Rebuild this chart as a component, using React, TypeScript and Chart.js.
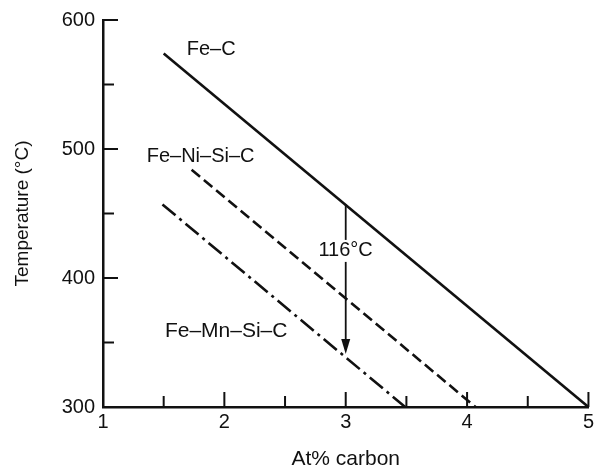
import React, { useEffect, useRef } from 'react';
import { Chart, registerables } from 'chart.js';

Chart.register(...registerables);

// Line end points (At% carbon, temperature °C)
const feCX = [1.5, 5];
const feCY = [574, 300];
const feNiSiCX = [1.73, 4.07];
const feNiSiCY = [484, 300];
const feMnSiCX = [1.49, 3.49];
const feMnSiCY = [457, 300];

// Arrow showing the 116°C depression
const arrowX = 3;
const arrowFromY = 457;
const arrowToY = 341;

// Text annotations
const noteTexts = ['Fe–C', 'Fe–Ni–Si–C', 'Fe–Mn–Si–C', '116°C'];
const noteX = [1.69, 1.36, 1.51, 2.775];
const noteY = [577, 494, 359, 421];

const xMin = 1;
const xMax = 5;
const yMin = 300;
const yMax = 600;

const FONT = '"Liberation Sans", Arial, Helvetica, sans-serif';
const INK = '#111';

const toPts = (xs: number[], ys: number[]) => xs.map((x, i) => ({ x, y: ys[i] }));

const overlayPlugin = {
  id: 'overlay',
  afterDatasetsDraw(chart: any) {
    const { ctx, scales } = chart;
    const xs = scales.x;
    const ys = scales.y;
    ctx.save();
    ctx.strokeStyle = INK;
    ctx.fillStyle = INK;
    // inward tick marks
    ctx.lineWidth = 2;
    const bottom = ys.getPixelForValue(yMin);
    const left = xs.getPixelForValue(xMin);
    xs.ticks.forEach((t: any) => {
      if (t.value === xMin) return;
      const px = xs.getPixelForValue(t.value);
      const len = Number.isInteger(t.value) ? 15 : 11;
      ctx.beginPath();
      ctx.moveTo(px, bottom);
      ctx.lineTo(px, bottom - len);
      ctx.stroke();
    });
    ys.ticks.forEach((t: any) => {
      if (t.value === yMin) return;
      const py = ys.getPixelForValue(t.value);
      const len = t.value % 100 === 0 ? 15 : 11;
      ctx.beginPath();
      ctx.moveTo(left, py);
      ctx.lineTo(left + len, py);
      ctx.stroke();
    });
    // arrow
    const ax = xs.getPixelForValue(arrowX);
    const ay1 = ys.getPixelForValue(arrowFromY);
    const ay2 = ys.getPixelForValue(arrowToY);
    ctx.lineWidth = 1.8;
    ctx.beginPath();
    ctx.moveTo(ax, ay1);
    ctx.lineTo(ax, ay2 - 12);
    ctx.stroke();
    ctx.beginPath();
    ctx.moveTo(ax, ay2);
    ctx.lineTo(ax - 4.5, ay2 - 15);
    ctx.lineTo(ax + 4.5, ay2 - 15);
    ctx.closePath();
    ctx.fill();
    // texts
    ctx.textAlign = 'left';
    ctx.textBaseline = 'middle';
    noteTexts.forEach((txt, i) => {
      ctx.font = `${i === 2 ? 21 : 20}px ${FONT}`;
      const px = xs.getPixelForValue(noteX[i]);
      const py = ys.getPixelForValue(noteY[i]);
      if (txt === '116°C') {
        const w = ctx.measureText(txt).width;
        ctx.fillStyle = '#fff';
        ctx.fillRect(px - 1, py - 11, w + 2, 22);
        ctx.fillStyle = INK;
      }
      ctx.fillText(txt, px, py);
    });
    ctx.restore();
  },
};

export default function App() {
  const ref = useRef<HTMLCanvasElement>(null);

  useEffect(() => {
    const canvas = ref.current;
    if (!canvas) return;
    const chart = new Chart(canvas, {
      type: 'scatter',
      data: {
        datasets: [
          {
            label: 'Fe–C',
            data: toPts(feCX, feCY),
            showLine: true,
            borderColor: INK,
            borderWidth: 2.6,
            pointRadius: 0,
          },
          {
            label: 'Fe–Ni–Si–C',
            data: toPts(feNiSiCX, feNiSiCY),
            showLine: true,
            borderColor: INK,
            borderWidth: 2.6,
            borderDash: [11, 5],
            pointRadius: 0,
          },
          {
            label: 'Fe–Mn–Si–C',
            data: toPts(feMnSiCX, feMnSiCY),
            showLine: true,
            borderColor: INK,
            borderWidth: 2.6,
            borderDash: [17, 5, 3, 5],
            pointRadius: 0,
          },
        ],
      },
      options: {
        animation: false,
        responsive: false,
        devicePixelRatio: 1,
        layout: { padding: { top: 18, right: 5, left: 0, bottom: 0 } },
        plugins: {
          legend: { display: false },
          tooltip: { enabled: false },
        },
        scales: {
          x: {
            type: 'linear',
            min: xMin,
            max: xMax,
            afterFit: (s: any) => {
              s.height = 65;
            },
            grid: { display: false, drawTicks: false },
            border: { display: true, color: INK, width: 2.5 },
            ticks: {
              stepSize: 0.5,
              padding: 3,
              color: INK,
              font: { family: FONT, size: 20 },
              callback: (v: any) => (Number.isInteger(v) ? String(v) : ''),
              maxRotation: 0,
              autoSkip: false,
            },
            title: {
              display: true,
              text: 'At% carbon',
              color: INK,
              font: { family: FONT, size: 21 },
              padding: { top: 1, bottom: 0 },
            },
          },
          y: {
            type: 'linear',
            min: yMin,
            max: yMax,
            afterFit: (s: any) => {
              s.width = 103;
            },
            grid: { display: false, drawTicks: false },
            border: { display: true, color: INK, width: 2.5 },
            ticks: {
              stepSize: 50,
              padding: 8,
              color: INK,
              font: { family: FONT, size: 20 },
              callback: (v: any) => (v % 100 === 0 ? String(v) : ''),
              autoSkip: false,
            },
            title: {
              display: true,
              text: 'Temperature (°C)',
              color: INK,
              font: { family: FONT, size: 19 },
              padding: { top: 11, bottom: 0 },
            },
          },
        },
      },
      plugins: [overlayPlugin],
    });
    return () => chart.destroy();
  }, []);

  return (
    <div
      style={{
        position: 'fixed',
        left: 0,
        top: 0,
        width: 597,
        height: 472,
        background: '#fff',
      }}
    >
      <canvas ref={ref} width={597} height={472} style={{ display: 'block' }} />
    </div>
  );
}
